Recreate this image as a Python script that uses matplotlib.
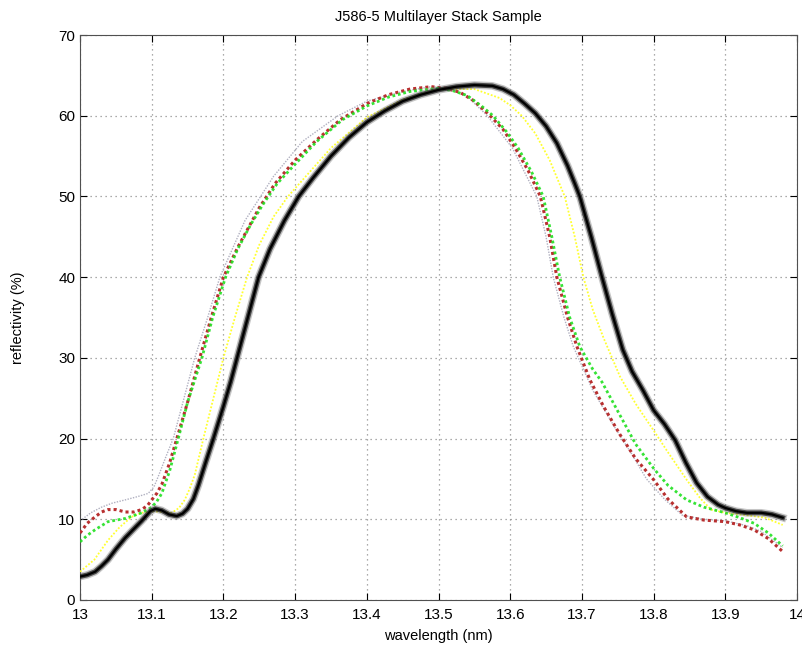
import matplotlib
matplotlib.use('Agg')
import matplotlib.pyplot as plt
import numpy as np

# wavelength (nm) / reflectivity (%)
black_x = [13.0, 13.01, 13.021, 13.03, 13.039, 13.05, 13.063, 13.075, 13.086, 13.098,
           13.105, 13.114, 13.124, 13.135, 13.143, 13.15, 13.158, 13.165, 13.175, 13.186,
           13.2, 13.21, 13.219, 13.234, 13.249, 13.265, 13.285, 13.305, 13.325, 13.35,
           13.375, 13.4, 13.425, 13.45, 13.475, 13.5, 13.525, 13.55, 13.575, 13.59,
           13.605, 13.62, 13.635, 13.65, 13.665, 13.68, 13.69, 13.697, 13.713, 13.728,
           13.742, 13.757, 13.77, 13.785, 13.8, 13.815, 13.83, 13.845, 13.86, 13.875,
           13.89, 13.9, 13.915, 13.93, 13.95, 13.965, 13.98]
black_y = [2.9, 3.1, 3.5, 4.2, 5.0, 6.3, 7.7, 8.8, 9.8, 11.0,
           11.3, 11.1, 10.6, 10.4, 10.7, 11.3, 12.5, 14.2, 17.0, 20.0,
           24.0, 27.0, 30.0, 35.0, 40.0, 43.5, 47.0, 50.0, 52.3, 55.0,
           57.3, 59.2, 60.6, 61.8, 62.6, 63.2, 63.6, 63.8, 63.7, 63.3,
           62.6, 61.5, 60.3, 58.7, 56.6, 53.8, 51.6, 50.0, 45.0, 40.0,
           35.5, 31.0, 28.3, 26.0, 23.5, 21.8, 19.8, 17.0, 14.5, 12.8,
           11.8, 11.4, 11.0, 10.8, 10.8, 10.6, 10.2]

red_x = [13.0, 13.01, 13.021, 13.03, 13.039, 13.05, 13.063, 13.075, 13.086, 13.094,
         13.1, 13.107, 13.114, 13.125, 13.135, 13.15, 13.167, 13.183, 13.2, 13.22,
         13.25, 13.272, 13.3, 13.33, 13.363, 13.4, 13.43, 13.46, 13.49, 13.51,
         13.53, 13.55, 13.572, 13.59, 13.607, 13.625, 13.642, 13.655, 13.665, 13.68,
         13.693, 13.711, 13.73, 13.753, 13.775, 13.8, 13.82, 13.846, 13.87, 13.9,
         13.92, 13.94, 13.96, 13.98]
red_y = [8.3, 9.5, 10.3, 10.9, 11.2, 11.2, 10.9, 10.9, 11.2, 11.7,
         12.4, 13.2, 14.3, 17.0, 20.0, 24.5, 30.0, 35.0, 40.0, 43.7,
         48.6, 51.6, 54.5, 57.0, 59.5, 61.5, 62.6, 63.3, 63.6, 63.4,
         62.9, 61.8, 60.0, 58.3, 56.0, 53.2, 50.0, 45.0, 40.0, 35.0,
         31.4, 27.3, 24.0, 20.5, 17.5, 14.9, 12.5, 10.3, 9.9, 9.7,
         9.3, 8.7, 7.6, 6.0]

green_x = [13.0, 13.01, 13.021, 13.039, 13.063, 13.086, 13.1, 13.107, 13.114, 13.125,
           13.137, 13.15, 13.17, 13.185, 13.203, 13.22, 13.238, 13.255, 13.275, 13.3,
           13.33, 13.366, 13.4, 13.43, 13.46, 13.5, 13.52, 13.54, 13.56, 13.576,
           13.595, 13.611, 13.63, 13.646, 13.658, 13.669, 13.683, 13.697, 13.715, 13.728,
           13.753, 13.775, 13.8, 13.82, 13.846, 13.87, 13.9, 13.92, 13.94, 13.96,
           13.98]
green_y = [7.2, 8.0, 8.7, 9.7, 10.1, 10.8, 11.5, 12.2, 13.2, 16.0,
           20.0, 24.5, 30.0, 35.0, 40.0, 43.5, 46.5, 49.0, 51.6, 54.0,
           56.8, 59.5, 61.2, 62.3, 63.0, 63.4, 63.1, 62.5, 61.2, 60.0,
           58.0, 56.0, 53.0, 50.0, 45.0, 40.0, 35.0, 31.4, 28.6, 27.0,
           22.9, 19.3, 16.3, 14.2, 12.4, 11.5, 10.8, 10.2, 9.5, 8.3,
           6.7]

yellow_x = [13.0, 13.02, 13.039, 13.055, 13.072, 13.086, 13.1, 13.115, 13.128, 13.138,
            13.146, 13.153, 13.16, 13.172, 13.186, 13.2, 13.216, 13.233, 13.25, 13.27,
            13.29, 13.314, 13.35, 13.4, 13.45, 13.5, 13.55, 13.585, 13.6, 13.616,
            13.635, 13.655, 13.676, 13.69, 13.702, 13.715, 13.73, 13.753, 13.775, 13.8,
            13.82, 13.846, 13.865, 13.88, 13.9, 13.93, 13.955, 13.98]
yellow_y = [3.5, 5.0, 7.4, 9.0, 10.3, 10.8, 11.0, 10.9, 10.8, 11.4,
            12.4, 13.8, 15.5, 20.0, 25.0, 30.0, 35.0, 40.0, 44.0, 47.5,
            50.0, 52.4, 56.0, 59.8, 62.0, 63.3, 63.3, 62.2, 61.3, 60.0,
            57.8, 54.5, 50.0, 45.0, 40.0, 36.0, 32.5, 27.7, 24.3, 21.0,
            18.3, 14.9, 12.6, 11.2, 10.8, 10.5, 10.2, 9.3]

gray_x = [13.0, 13.015, 13.03, 13.045, 13.063, 13.08, 13.095, 13.103, 13.11, 13.12,
          13.13, 13.145, 13.16, 13.178, 13.195, 13.23, 13.27, 13.31, 13.36, 13.4,
          13.45, 13.49, 13.52, 13.54, 13.568, 13.603, 13.62, 13.637, 13.65, 13.66,
          13.675, 13.688, 13.715, 13.745, 13.77, 13.79, 13.815, 13.84, 13.87, 13.9,
          13.93, 13.95, 13.98]
gray_y = [9.8, 10.8, 11.5, 12.0, 12.4, 12.8, 13.2, 14.0, 15.5, 17.8,
          20.0, 25.0, 30.0, 35.0, 40.0, 47.0, 52.5, 56.8, 60.0, 61.8,
          63.0, 63.6, 63.2, 62.4, 60.0, 56.0, 53.0, 50.0, 45.0, 40.0,
          35.0, 31.4, 26.0, 21.5, 18.0, 15.0, 12.5, 10.5, 10.0, 9.8,
          9.2, 8.5, 6.5]

plt.rcParams['font.family'] = ['Liberation Sans', 'DejaVu Sans']

fig = plt.figure(figsize=(8.02, 6.52), dpi=100)
ax = fig.add_axes([0.0998, 0.0798, 0.894, 0.8665])

dot = (0, (1, 1))
ax.plot(gray_x, gray_y, color='#b0b0c0', linewidth=1.0, linestyle=dot, zorder=2)
ax.plot(yellow_x, yellow_y, color='#ffff30', linewidth=1.3, linestyle=dot, zorder=3)
ax.plot(red_x, red_y, color='#b83030', linewidth=2.2, linestyle=dot, zorder=3)
ax.plot(green_x, green_y, color='#20e020', linewidth=2.0, linestyle=dot,
        zorder=3, alpha=0.9)

# black bundle: gray halo + dark core
ax.plot(black_x, black_y, color='#707070', linewidth=5.5, alpha=0.4, zorder=4)
ax.plot(black_x, black_y, color='#202020', linewidth=3.5, alpha=0.75, zorder=5)
ax.plot(black_x, black_y, color='black', linewidth=1.6, zorder=6)

ax.set_xlim(13, 14)
ax.set_ylim(0, 70)
ax.set_xticks(np.arange(13, 14.001, 0.1))
ax.set_xticklabels(['13', '13.1', '13.2', '13.3', '13.4', '13.5', '13.6',
                    '13.7', '13.8', '13.9', '14'])
ax.set_yticks(range(0, 71, 10))
ax.grid(True, linestyle=(0, (1, 3)), color='#909090', linewidth=0.9)
ax.tick_params(direction='in', length=5, top=True, right=True, labelsize=11)
ax.tick_params(axis='x', pad=6)
for sp in ax.spines.values():
    sp.set_color('#505050')

ax.set_xlabel('wavelength (nm)', fontsize=10.5, labelpad=5)
ax.set_ylabel('reflectivity (%)', fontsize=10.5, labelpad=24)
ax.set_title('J586-5 Multilayer Stack Sample', fontsize=10.5, pad=10)

fig.savefig('out.png', dpi=100)
